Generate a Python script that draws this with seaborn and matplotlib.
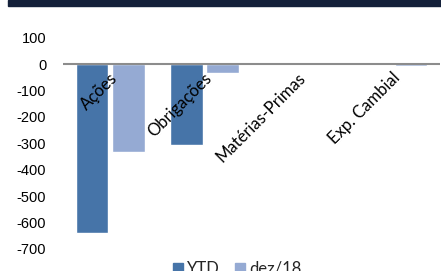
import matplotlib
matplotlib.use("Agg")
import matplotlib.pyplot as plt
import seaborn as sns
import pandas as pd
from matplotlib.patches import Rectangle
from matplotlib.lines import Line2D

categories = ["Ações", "Obrigações", "Matérias-Primas", "Exp. Cambial"]
ytd = [-640, -305, 0, 0]
dez18 = [-333, -35, 0, -7]
series_names = ["YTD", "dez/18"]
yticks = [100, 0, -100, -200, -300, -400, -500, -600, -700]

colors = ["#4674A8", "#95AAD3"]

df = pd.DataFrame({
    "cat": categories * 2,
    "serie": [series_names[0]] * 4 + [series_names[1]] * 4,
    "val": ytd + dez18,
})

sns.set_theme(style="white")
plt.rcParams["font.family"] = ["Liberation Sans", "DejaVu Sans"]

fig = plt.figure(figsize=(4.41, 2.71), dpi=100)
ax = fig.add_axes([63 / 441, 1 - 248.8 / 271, 377 / 441, (248.8 - 37.7) / 271])

sns.barplot(data=df, x="cat", y="val", hue="serie", palette=colors,
            width=0.77, gap=0.1, ax=ax, legend=False, saturation=1)

ax.set_ylim(-700, 100)
ax.set_xlim(-0.5, 3.5)
ax.set_yticks(yticks)
ax.set_yticklabels([str(v) for v in yticks], fontsize=10.5, color="#000000")
ax.tick_params(axis="y", length=0, pad=12)
ax.set_xticks([])
ax.set_xlabel("")
ax.set_ylabel("")
for s in ax.spines.values():
    s.set_visible(False)
ax.axhline(0, color="#8c8c8c", lw=1.5, zorder=3)

for i, c in enumerate(categories):
    ax.text(i - 0.01, -22, c, rotation=45, ha="right", va="top",
            rotation_mode="anchor", fontsize=12, family=["Lato", "DejaVu Sans"],
            color="#000000", zorder=5)

fig.patches.append(Rectangle((8 / 441, 1 - 6 / 271), 1, 6 / 271,
                             transform=fig.transFigure, color="#14213A", zorder=0))

handles = [Line2D([], [], marker="s", linestyle="none", markersize=7,
                  markerfacecolor=col, markeredgecolor=col) for col in colors]
leg = fig.legend(handles, series_names, loc="center", bbox_to_anchor=(236 / 441, 1 - 269 / 271),
                 ncol=2, frameon=False, handletextpad=0.1,
                 columnspacing=0.8, handlelength=0.9, borderaxespad=0,
                 prop={"family": ["Lato", "DejaVu Sans"], "size": 12})

fig.savefig("out.png", dpi=100)
